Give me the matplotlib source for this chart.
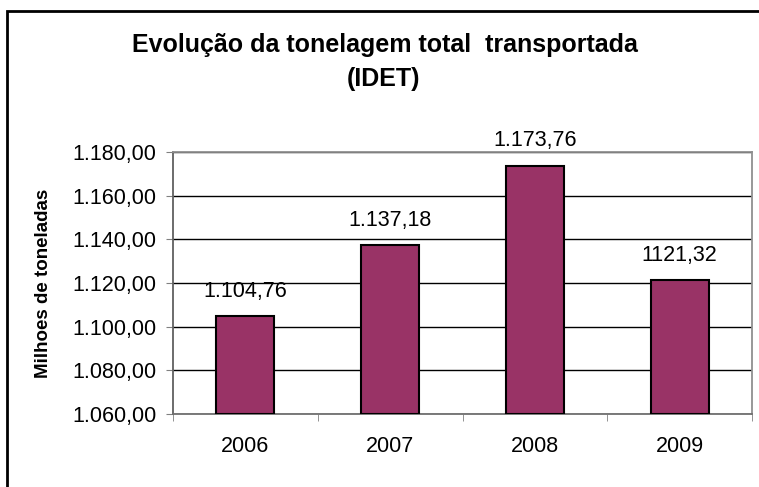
import matplotlib
matplotlib.use("Agg")
import matplotlib.pyplot as plt
from matplotlib.lines import Line2D
from matplotlib.ticker import FuncFormatter, FixedLocator

plt.rcParams['font.family'] = ['Liberation Sans', 'DejaVu Sans']

anos = ["2006", "2007", "2008", "2009"]
toneladas = [1104.76, 1137.18, 1173.76, 1121.32]
rotulos = ["1.104,76", "1.137,18", "1.173,76", "1121,32"]
yticks = [1060, 1080, 1100, 1120, 1140, 1160, 1180]


def fmt_br(v, pos=None):
    s = "{:,.2f}".format(v)
    return s.replace(",", "X").replace(".", ",").replace("X", ".")


fig = plt.figure(figsize=(7.59, 4.87), dpi=100)
ax = fig.add_axes([173 / 759, 1 - 414 / 487, (752 - 173) / 759, (414 - 152) / 487])

# moldura do grafico (so lado esquerdo e topo aparecem)
bx, by = 7 / 759, 1 - 11 / 487
fig.add_artist(Line2D([bx, bx, 1.0], [0.0, by, by], transform=fig.transFigure,
                      color="black", linewidth=2, solid_joinstyle="miter"))

x = range(len(anos))
ax.bar(x, [v - 1060 for v in toneladas], bottom=1060, width=0.4,
       color="#993366", edgecolor="black", linewidth=1.5, zorder=3)

for i, v in enumerate(toneladas):
    ax.annotate(rotulos[i], (i, v), xytext=(0, 18), textcoords="offset points",
                ha="center", va="center", fontsize=15.5, annotation_clip=False)

ax.set_ylim(1060, 1180)
ax.set_xlim(-0.5, 3.5)
ax.set_yticks(yticks)
ax.yaxis.set_major_formatter(FuncFormatter(fmt_br))
ax.grid(axis="y", color="black", linewidth=1, zorder=1)

ax.set_xticks(list(x))
ax.set_xticklabels(anos)
ax.xaxis.set_minor_locator(FixedLocator([-0.5, 0.5, 1.5, 2.5, 3.5]))
ax.tick_params(axis="x", which="major", length=0, pad=16, labelsize=15.5)
ax.tick_params(axis="x", which="minor", length=5, color="#808080", direction="out")
ax.tick_params(axis="y", length=5, color="#808080", labelsize=15.5, pad=7)

for s in ax.spines.values():
    s.set_color("#909090")
    s.set_linewidth(1.3)
ax.spines["left"].set_color("#606060")
ax.spines["bottom"].set_color("#707070")

fig.text(44 / 759, 1 - 283 / 487, "Milhoes de toneladas", rotation=90,
         ha="center", va="center", fontsize=13.5, fontweight="bold")
fig.text(385 / 759, 1 - 52 / 487, "Evolução da tonelagem total  transportada",
         ha="center", va="baseline", fontsize=18, fontweight="bold")
fig.text(384 / 759, 1 - 86 / 487, "(IDET)",
         ha="center", va="baseline", fontsize=18, fontweight="bold")

fig.savefig("out.png", dpi=100)
